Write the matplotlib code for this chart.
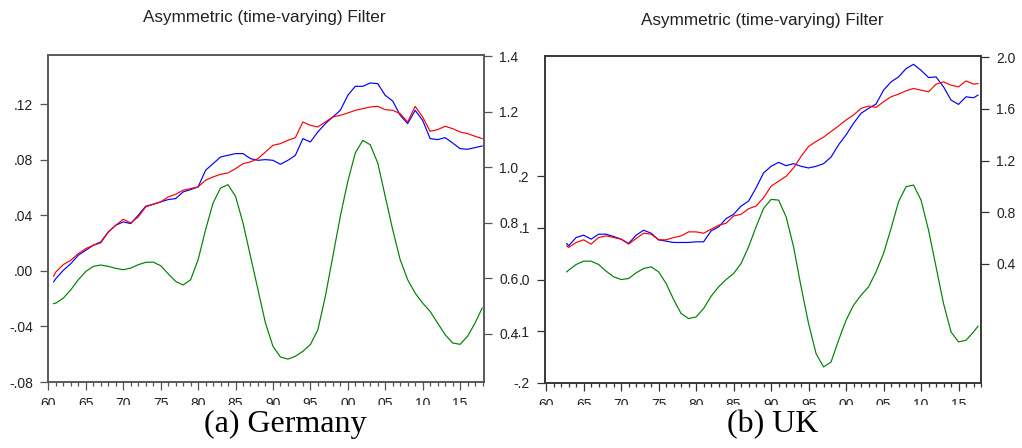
import matplotlib
matplotlib.use('Agg')
import matplotlib.pyplot as plt
from matplotlib.ticker import FixedLocator, MultipleLocator, FuncFormatter
from matplotlib.transforms import Bbox, TransformedBbox


BLUE = (0/255.0, 0/255.0, 255/255.0)
RED = (255/255.0, 0/255.0, 0/255.0)
GREEN = (0/255.0, 128/255.0, 0/255.0)
TEXT = '#222222'

TITLE = "Asymmetric (time-varying) Filter"

# Germany: annual readings, cycle on the left scale, series and trend on the right
GER_YEARS = [1960.7] + list(range(1961, 2018)) + [2017.95]
GER_CYCLE = [
    -0.0236, -0.0232, -0.0196, -0.0136, -0.0064, -0.0004, 0.0032, 0.0042,
    0.0032, 0.0018, 0.0008, 0.0020, 0.0044, 0.0061, 0.0063, 0.0037,
    -0.0021, -0.0076, -0.0102, -0.0064, 0.0080, 0.0296, 0.0488, 0.0596,
    0.0620, 0.0536, 0.0344, 0.0104, -0.0136, -0.0376, -0.0543, -0.0620,
    -0.0635, -0.0615, -0.0579, -0.0531, -0.0424, -0.0184, 0.0104, 0.0392,
    0.0644, 0.0848, 0.0939, 0.0907, 0.0776, 0.0536, 0.0296, 0.0080,
    -0.0064, -0.0160, -0.0232, -0.0292, -0.0376, -0.0459, -0.0519, -0.0529,
    -0.0471, -0.0376, -0.0268,
]
GER_SERIES = [
    0.5861, 0.5981, 0.6281, 0.6521, 0.6821, 0.7001, 0.7181, 0.7301,
    0.7661, 0.7901, 0.8022, 0.7961, 0.8262, 0.8586, 0.8658, 0.8742,
    0.8826, 0.8862, 0.9102, 0.9186, 0.9282, 0.9882, 1.0122, 1.0362,
    1.0423, 1.0483, 1.0483, 1.0302, 1.0242, 1.0266, 1.0242, 1.0098,
    1.0242, 1.0423, 1.1023, 1.0903, 1.1263, 1.1563, 1.1803, 1.2043,
    1.2583, 1.2908, 1.2908, 1.3028, 1.3004, 1.2583, 1.2379, 1.1863,
    1.1563, 1.2043, 1.1683, 1.1023, 1.0987, 1.1059, 1.0867, 1.0663,
    1.0639, 1.0699, 1.0759,
]
GER_TREND = [
    0.6065, 0.6221, 0.6485, 0.6641, 0.6881, 0.7061, 0.7181, 0.7265,
    0.7661, 0.7901, 0.8118, 0.7985, 0.8202, 0.8562, 0.8658, 0.8742,
    0.8922, 0.9018, 0.9162, 0.9222, 0.9282, 0.9522, 0.9642, 0.9738,
    0.9786, 0.9942, 1.0122, 1.0182, 1.0302, 1.0543, 1.0783, 1.0843,
    1.0963, 1.1059, 1.1623, 1.1503, 1.1443, 1.1623, 1.1803, 1.1863,
    1.1947, 1.2043, 1.2103, 1.2163, 1.2187, 1.2067, 1.2043, 1.1923,
    1.1623, 1.2187, 1.1803, 1.1287, 1.1347, 1.1467, 1.1383, 1.1263,
    1.1203, 1.1107, 1.1023,
]

# UK
UK_YEARS = [1962.75] + list(range(1963, 2018)) + [2017.6]
UK_CYCLE = [
    0.0148, 0.0181, 0.0290, 0.0355, 0.0355, 0.0290, 0.0161, 0.0052,
    0.0000, 0.0019, 0.0129, 0.0213, 0.0245, 0.0148, -0.0077, -0.0387,
    -0.0658, -0.0755, -0.0723, -0.0561, -0.0323, -0.0142, 0.0000, 0.0116,
    0.0310, 0.0632, 0.1019, 0.1374, 0.1548, 0.1535, 0.1213, 0.0632,
    -0.0142, -0.0852, -0.1432, -0.1690, -0.1594, -0.1174, -0.0787, -0.0497,
    -0.0303, -0.0142, 0.0148, 0.0503, 0.0987, 0.1503, 0.1794, 0.1826,
    0.1535, 0.0955, 0.0245, -0.0465, -0.1013, -0.1206, -0.1174, -0.1013,
    -0.0903,
]
UK_SERIES = [
    0.5587, 0.5408, 0.6048, 0.6227, 0.5920, 0.6304, 0.6304, 0.6125,
    0.5920, 0.5587, 0.6227, 0.6611, 0.6381, 0.5869, 0.5766, 0.5664,
    0.5664, 0.5664, 0.5715, 0.5715, 0.6560, 0.6867, 0.7507, 0.7840,
    0.8480, 0.8864, 0.9888, 1.1040, 1.1552, 1.1859, 1.1603, 1.1757,
    1.1552, 1.1424, 1.1552, 1.1757, 1.2269, 1.3216, 1.3984, 1.4880,
    1.5648, 1.6032, 1.6365, 1.7440, 1.8080, 1.8464, 1.9104, 1.9437,
    1.8976, 1.8413, 1.8464, 1.7696, 1.6672, 1.6339, 1.6928, 1.6851,
    1.7056,
]
UK_TREND = [
    0.5408, 0.5280, 0.5664, 0.5869, 0.5536, 0.6048, 0.6176, 0.6048,
    0.5920, 0.5536, 0.5971, 0.6381, 0.6304, 0.5869, 0.5869, 0.6048,
    0.6176, 0.6483, 0.6483, 0.6381, 0.6688, 0.6995, 0.7149, 0.7712,
    0.7840, 0.8275, 0.8480, 0.9120, 1.0016, 1.0400, 1.0784, 1.1424,
    1.2320, 1.3088, 1.3472, 1.3805, 1.4240, 1.4675, 1.5136, 1.5520,
    1.6032, 1.6211, 1.6109, 1.6544, 1.6928, 1.7133, 1.7389, 1.7568,
    1.7440, 1.7312, 1.7901, 1.8080, 1.7824, 1.7696, 1.8157, 1.7901,
    1.7952,
]

GER_LEFT_TICKS = [-0.08, -0.04, 0.0, 0.04, 0.08, 0.12]
GER_LEFT_LABELS = ['-.08', '-.04', '.00', '.04', '.08', '.12']
GER_RIGHT_TICKS = [0.4, 0.6, 0.8, 1.0, 1.2, 1.4]
GER_RIGHT_LABELS = ['0.4', '0.6', '0.8', '1.0', '1.2', '1.4']
UK_LEFT_TICKS = [-0.2, -0.1, 0.0, 0.1, 0.2]
UK_LEFT_LABELS = ['-.2', '-.1', '.0', '.1', '.2']
UK_RIGHT_TICKS = [0.4, 0.8, 1.2, 1.6, 2.0]
UK_RIGHT_LABELS = ['0.4', '0.8', '1.2', '1.6', '2.0']

plt.rcParams['font.family'] = ['Liberation Sans', 'DejaVu Sans']

# year labels get cut off along this line (figure fraction from the bottom)
LABEL_CUT = 0.096


def _year_label(x, pos):
    return '%02d' % (int(round(x)) % 100)


def _style_axis(ax, frame_color):
    for sp in ax.spines.values():
        sp.set_color(frame_color)
        sp.set_linewidth(1.1)
    ax.tick_params(which='both', direction='out', colors=frame_color,
                   labelcolor=TEXT, labelsize=10, width=0.9)
    ax.tick_params(axis='y', length=6, pad=5)
    ax.tick_params(axis='x', which='major', length=6, pad=5)
    ax.tick_params(axis='x', which='minor', length=3)


def draw_panel(fig, rect, years, cycle, series, trend, xlim,
               left_lim, left_ticks, left_labels,
               right_lim, right_ticks, right_labels,
               frame_color, title_xy, caption, caption_x):
    ax = fig.add_axes(rect)
    ax2 = ax.twinx()

    ax.plot(years, cycle, color=GREEN, linewidth=0.85)
    ax2.plot(years, series, color=BLUE, linewidth=0.85)
    ax2.plot(years, trend, color=RED, linewidth=0.85)

    ax.set_xlim(xlim)
    ax.set_ylim(left_lim)
    ax2.set_ylim(right_lim)

    ax.xaxis.set_major_locator(MultipleLocator(5))
    ax.xaxis.set_minor_locator(MultipleLocator(1))
    ax.xaxis.set_major_formatter(FuncFormatter(_year_label))

    ax.yaxis.set_major_locator(FixedLocator(left_ticks))
    ax.set_yticklabels(left_labels)
    ax2.yaxis.set_major_locator(FixedLocator(right_ticks))
    ax2.set_yticklabels(right_labels)

    _style_axis(ax, frame_color)
    _style_axis(ax2, frame_color)

    fig.text(title_xy[0], title_xy[1], TITLE, ha='center', va='center',
             fontsize=12.3, color=TEXT)
    fig.text(caption_x, 0.036, caption, ha='center', va='baseline',
             fontsize=23, family=['Liberation Serif', 'DejaVu Serif'],
             color='black')
    return ax, ax2


fig = plt.figure(figsize=(10.22, 4.48), dpi=100)

ger_ax, _ = draw_panel(
    fig, [0.0470, 0.1473, 0.4266, 0.7299], GER_YEARS,
    GER_CYCLE, GER_SERIES, GER_TREND, (1959.95, 2018.2),
    (-0.08, 0.1553), GER_LEFT_TICKS, GER_LEFT_LABELS,
    (0.2252, 1.4036), GER_RIGHT_TICKS, GER_RIGHT_LABELS,
    '#555555', (0.2583, 0.961), "(a) Germany", 0.2789)

uk_ax, _ = draw_panel(
    fig, [0.5333, 0.1451, 0.4266, 0.7299], UK_YEARS,
    UK_CYCLE, UK_SERIES, UK_TREND, (1959.85, 2018.0),
    (-0.2, 0.432), UK_LEFT_TICKS, UK_LEFT_LABELS,
    (-0.52, 2.008), UK_RIGHT_TICKS, UK_RIGHT_LABELS,
    '#333333', (0.7456, 0.955), "(b) UK", 0.7564)

# clip the year labels so only their upper part shows above the captions
fig.canvas.draw()
cut = TransformedBbox(Bbox([[0, LABEL_CUT], [1, 1]]), fig.transFigure)
for ax in (ger_ax, uk_ax):
    for tl in ax.get_xticklabels():
        tl.set_clip_box(cut)
        tl.set_clip_on(True)

fig.savefig('out.png', dpi=100)
